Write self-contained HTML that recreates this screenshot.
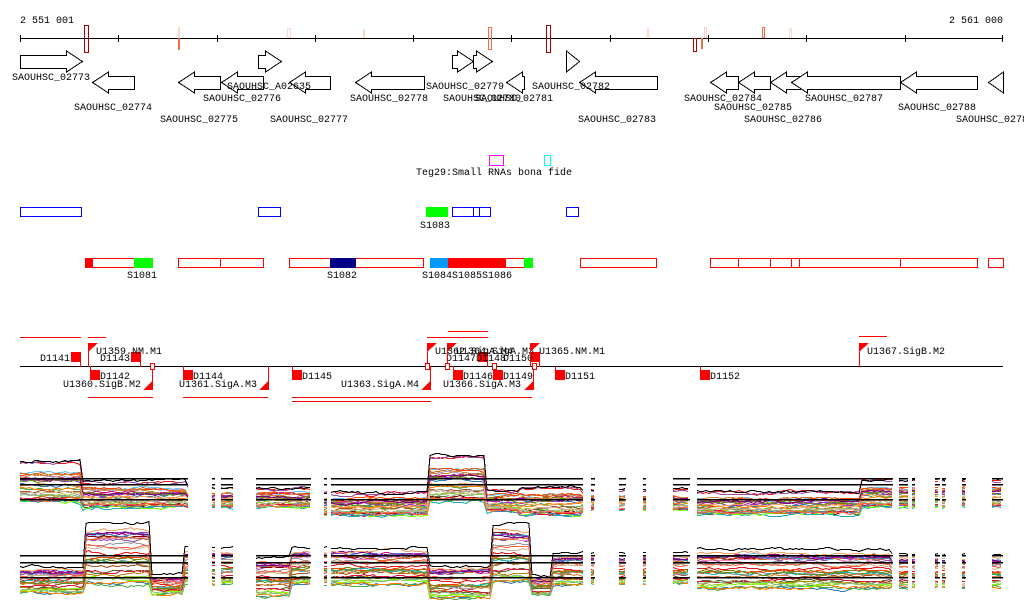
<!DOCTYPE html>
<html><head><meta charset="utf-8"><style>
html,body{margin:0;padding:0;background:#fff;width:1024px;height:611px;overflow:hidden}
svg{display:block}
text{font-family:"Liberation Mono",monospace;font-size:10px;fill:#000}
</style></head><body>
<svg id="s" width="1024" height="611" xmlns="http://www.w3.org/2000/svg" shape-rendering="crispEdges">
<text x="20" y="23">2 551 001</text>
<text x="1003" y="23" text-anchor="end">2 561 000</text>
<rect x="20" y="38" width="983" height="1" fill="#000"/>
<g fill="#000">
<rect x="20" y="35" width="1" height="7"/><rect x="118" y="35" width="1" height="7"/><rect x="217" y="35" width="1" height="7"/><rect x="315" y="35" width="1" height="7"/><rect x="413" y="35" width="1" height="7"/><rect x="511" y="35" width="1" height="7"/><rect x="610" y="35" width="1" height="7"/><rect x="708" y="35" width="1" height="7"/><rect x="806" y="35" width="1" height="7"/><rect x="905" y="35" width="1" height="7"/><rect x="1002" y="35" width="1" height="7"/>
</g>
<g fill="none">
<rect x="84.5" y="25.5" width="4" height="27" stroke="#a00"/>
<rect x="178" y="27" width="2" height="11" fill="#fcd8c8"/><rect x="178" y="38" width="2" height="12" fill="#f46a4a"/>
<rect x="287.5" y="28.5" width="3" height="9" stroke="#fcd8c8"/>
<rect x="363" y="29" width="2" height="9" fill="#fcd8c8"/>
<rect x="488.5" y="27.5" width="3" height="22" stroke="#f46a4a"/>
<rect x="546.5" y="25.5" width="4" height="27" stroke="#a00"/>
<rect x="647" y="28" width="2" height="10" fill="#fcd8c8"/>
<rect x="693.5" y="38.5" width="3" height="13" stroke="#a00"/>
<rect x="701" y="38" width="2" height="11" fill="#f46a4a"/>
<rect x="704.5" y="27.5" width="2" height="10" stroke="#fcc"/>
<rect x="762.5" y="27.5" width="2" height="10" stroke="#f46a4a"/>
<rect x="789.5" y="28.5" width="2" height="9" stroke="#fcd8c8"/>
</g>
<g id="genes" fill="#fff" stroke="#000" stroke-width="1"></g>
<g id="glabels"></g>
<!-- legend -->
<rect x="489" y="155" width="15" height="11" fill="#f0f"/><rect x="490" y="156" width="13" height="9" fill="#fff"/>
<rect x="544" y="155" width="7" height="11" fill="#0ff"/><rect x="545" y="156" width="5" height="9" fill="#fff"/>
<text x="416" y="175">Teg29:Small RNAs bona fide</text>
<g fill="none" stroke="#00f">
<rect x="20.5" y="207.5" width="61" height="9"/><rect x="258.5" y="207.5" width="22" height="9"/><rect x="566.5" y="207.5" width="12" height="9"/>
<rect x="452.5" y="207.5" width="38" height="9"/><line x1="473.5" y1="207" x2="473.5" y2="217"/><line x1="479.5" y1="207" x2="479.5" y2="217"/>
</g>
<rect x="426" y="207" width="22" height="10" fill="#0f0"/>
<text x="420" y="228">S1083</text>
<g fill="none" stroke="#f00">
<rect x="85.5" y="258.5" width="67" height="9"/>
<rect x="178.5" y="258.5" width="85" height="9"/><line x1="220.5" y1="258" x2="220.5" y2="268"/>
<rect x="289.5" y="258.5" width="134" height="9"/>
<rect x="430.5" y="258.5" width="102" height="9"/>
<rect x="580.5" y="258.5" width="76" height="9"/>
<rect x="710.5" y="258.5" width="267" height="9"/>
<line x1="738.5" y1="258" x2="738.5" y2="268"/><line x1="770.5" y1="258" x2="770.5" y2="268"/><line x1="791.5" y1="258" x2="791.5" y2="268"/><line x1="799.5" y1="258" x2="799.5" y2="268"/><line x1="900.5" y1="258" x2="900.5" y2="268"/>
<rect x="988.5" y="258.5" width="15" height="9"/>
</g>
<rect x="85" y="258" width="8" height="10" fill="#f00"/>
<rect x="134" y="258" width="19" height="10" fill="#0f0"/>
<rect x="330" y="258" width="26" height="10" fill="#008"/>
<rect x="430" y="258" width="18" height="10" fill="#09f"/>
<rect x="448" y="258" width="58" height="10" fill="#f00"/>
<rect x="524" y="258" width="9" height="10" fill="#0f0"/>
<text x="127" y="278">S1081</text>
<text x="327" y="278">S1082</text>
<text x="422" y="278">S1084S1085S1086</text>
<rect x="20" y="366" width="983" height="1" fill="#000"/>
<g fill="#f00">
<rect x="20" y="337" width="61" height="1"/><rect x="88" y="337" width="18" height="1"/>
<rect x="448" y="331" width="40" height="1"/><rect x="427" y="337" width="61" height="1"/>
<rect x="859" y="336" width="28" height="1"/>
<rect x="88" y="397" width="65" height="1"/><rect x="183" y="397" width="85" height="1"/>
<rect x="292" y="397" width="240" height="1"/><rect x="292" y="401" width="139" height="1"/>
</g>
<g id="reg"></g>
<g id="plots"></g>
</svg>
<script>
var NS="http://www.w3.org/2000/svg";
function el(p,t,a,txt){var e=document.createElementNS(NS,t);for(var k in a)e.setAttribute(k,a[k]);if(txt)e.textContent=txt;document.getElementById(p).appendChild(e);return e;}
var G=[[20,82,1,1],[92,134,-1,2],[178,220,-1,2],[221,263,-1,2],[258,281,1,1],[289,330,-1,2],[355,424,-1,2],[452,473,1,1],[473,492,1,1],[506,524,-1,2],[566,579,1,1],[579,657,-1,2],[710,738,-1,2],[738,770,-1,2],[770,800,-1,2],[791,900,-1,2],[900,977,-1,2],[988,1003,-1,2]];
G.forEach(function(g){var a=g[0],b=g[1],d=g[2],r=g[3];var t=r==1?51:72,s1=t+4.5,s2=t+17.5,bt=t+21,m=t+10.5;var h=Math.min(16,b-a);var p;
if(d==1){var hx=b-h;p=[[a,s1],[hx,s1],[hx,t],[b,m],[hx,bt],[hx,s2],[a,s2]];}else{var hx=a+h;p=[[b,s1],[hx,s1],[hx,t],[a,m],[hx,bt],[hx,s2],[b,s2]];}
el("genes","polygon",{points:p.map(function(q){return (q[0]+0.5)+","+q[1]}).join(" ")});});
var L=[["SAOUHSC_02773",12,80],["SAOUHSC_02774",74,110],["SAOUHSC_02775",160,122],["SAOUHSC_02776",203,101],["SAOUHSC_A02635",227,89],["SAOUHSC_02777",270,122],["SAOUHSC_02778",350,101],["SAOUHSC_02779",426,89],["SAOUHSC_02780",443,101],["SAOUHSC_02781",475,101],["SAOUHSC_02782",532,89],["SAOUHSC_02783",578,122],["SAOUHSC_02784",684,101],["SAOUHSC_02785",714,110],["SAOUHSC_02786",744,122],["SAOUHSC_02787",805,101],["SAOUHSC_02788",898,110],["SAOUHSC_02789",956,122]];
L.forEach(function(l){el("glabels","text",{x:l[1],y:l[2]},l[0]);});
function sq(x,y){el("reg","rect",{x:x,y:y,width:10,height:10,fill:"#f00"});}
function stem(x,y1,y2){el("reg","rect",{x:x,y:y1,width:1,height:y2-y1,fill:"#f00"});}
function ob(x){el("reg","rect",{x:x-1.5,y:363.5,width:4,height:6,fill:"#fff",stroke:"#f00"});}
function flagUp(x){stem(x,343,367);el("reg","polygon",{points:x+",343 "+(x+10)+",343 "+x+",352",fill:"#f00"});}
function flagDn(x){stem(x,366,390);el("reg","polygon",{points:(x+1)+",380 "+(x+1)+",390 "+(x-9)+",390",fill:"#f00"});}
function T(x,y,s){el("reg","text",{x:x,y:y},s);}
[[71,"D1141",40],[131,"D1143",100],[478,"",0],[530,"D1150",503]].forEach(function(d){sq(d[0],352);stem(d[0]+9,352,367);if(d[1])T(d[2],361,d[1]);});
T(446,361,"D1147D1148");
[[90,"D1142"],[183,"D1144"],[292,"D1145"],[453,"D1146"],[493,"D1149"],[555,"D1151"],[700,"D1152"]].forEach(function(d){sq(d[0],370);stem(d[0],366,372);T(d[0]+10,379,d[1]);});
flagUp(88);T(96,354,"U1359.NM.M1");
flagUp(427);flagUp(447);T(435,354,"U1362.SigA.M4");T(456,354,"U1364.SigA.M3");
flagUp(530);T(539,354,"U1365.NM.M1");
flagUp(859);T(867,354,"U1367.SigB.M2");
flagDn(152);T(63,387,"U1360.SigB.M2");
flagDn(268);T(179,387,"U1361.SigA.M3");
flagDn(430);T(341,387,"U1363.SigA.M4");
flagDn(533);T(443,387,"U1366.SigA.M3");
[152,427,447,494,534].forEach(ob);
var seed=7;function rnd(){seed=(seed*16807)%2147483647;return (seed-1)/2147483646;}
var R=[[20,188],[212,215],[221,233],[256,311],[324,327],[331,583],[591,595],[619,626],[643,646],[673,690],[697,893],[899,908],[912,915],[935,940],[942,946],[962,966],[992,1003]];
var P1=[[20,83,462,502],[83,188,482,507],[188,256,488,507],[256,311,488,507],[311,430,493,515],[430,487,457,502],[487,520,490,512],[520,583,487,515],[583,697,490,510],[697,860,492,514],[860,1004,480,507]];
var P2=[[20,86,567,592],[86,152,524,584],[152,183,575,594],[183,256,548,584],[256,290,558,596],[290,430,548,584],[430,493,565,598],[493,530,525,582],[530,553,576,594],[553,697,553,584],[697,890,550,588],[890,1004,555,587]];
var C=["#e41a1c","#377eb8","#4daf4a","#984ea3","#ff7f00","#a65628","#f781bf","#999999","#66c2ff","#8b0000","#9acd32","#d2691e","#b0a0d0","#c71585","#808000","#ff4500","#556b2f","#20b2aa","#cd853f","#9932cc","#7fff00","#b8860b","#dc143c","#4682b4","#8fbc8f","#d2b48c","#ff6347","#6b8e23","#800080","#f4a460"];
function prof(P,x){for(var i=0;i<P.length;i++)if(x>=P[i][0]&&x<P[i][1])return P[i];return P[P.length-1];}
function plot(P,blk){
 for(var i=0;i<C.length+1;i++){var f=i==C.length?-0.03:Math.pow(rnd(),0.9);var col=i==C.length?"#000":C[i];
  R.forEach(function(r){var pts=[];var n=0;for(var x=r[0];x<=r[1];x+=3){var p=prof(P,x);n+=(rnd()-0.5)*2.5;n*=0.85;var y=Math.round(p[2]+f*(p[3]-p[2])+n)+0.5;pts.push(x+","+y);}
   if(pts.length==1)pts.push(r[1]+","+pts[0].split(",")[1]);
   el("plots","polyline",{points:pts.join(" "),fill:"none",stroke:col,"stroke-width":1});});}
 blk.forEach(function(y){R.forEach(function(r){el("plots","rect",{x:r[0],y:y,width:r[1]-r[0],height:1.5,fill:"#000"});});});
}
plot(P1,[478,484,499]);plot(P2,[555,562,577]);
</script>
</body></html>
